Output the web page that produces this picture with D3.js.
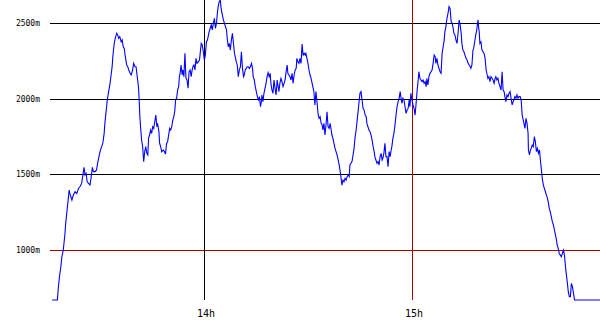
<!DOCTYPE html>
<html>
<head>
<meta charset="utf-8">
<script src="https://cdn.jsdelivr.net/npm/d3@7"></script>
<style>
  body { margin: 0; background: #fff; }
  text { font-family: "DejaVu Sans Mono", monospace; fill: #000; }
</style>
</head>
<body>
<div id="VizBox"></div>
<script>

// minutes after 13:00
var minutes = [16.2, 17.7, 18.0, 18.3, 18.7, 19.0, 19.4, 19.6, 19.9, 20.1, 20.4, 20.7, 21.1, 21.3, 21.6, 21.9, 22.3, 22.8, 23.3, 23.8, 24.2, 24.7, 25.0, 25.4, 25.7, 26.0, 26.3, 26.7, 27.1, 27.4, 27.8, 28.1, 28.6, 29.0, 29.3, 29.7, 30.0, 30.3, 30.8, 31.2, 31.4, 31.7, 32.1, 32.5, 32.9, 33.2, 33.5, 33.7, 33.9, 34.1, 34.4, 34.8, 35.1, 35.4, 35.7, 36.1, 36.4, 36.7, 37.0, 37.3, 37.7, 38.0, 38.3, 38.7, 39.0, 39.4, 39.7, 40.1, 40.4, 40.8, 41.1, 41.3, 41.5, 41.7, 42.0, 42.3, 42.6, 42.9, 43.2, 43.5, 43.8, 44.0, 44.3, 44.6, 44.9, 45.2, 45.5, 45.8, 46.1, 46.4, 46.6, 47.0,
  47.2, 47.5, 47.8, 48.2, 48.6, 48.9, 49.2, 49.5, 49.8, 50.1, 50.4, 50.7, 51.0, 51.3, 51.6, 51.8, 52.1, 52.4, 52.7, 52.9, 53.1, 53.4, 53.7, 53.9, 54.2, 54.5, 54.8, 55.1, 55.4, 55.7, 56.0, 56.3, 56.5, 56.8, 57.1, 57.4, 57.7, 58.0, 58.4, 58.7, 58.9, 59.2, 59.5, 59.8, 60.1, 60.4, 60.7, 61.0, 61.3, 61.5, 61.8, 62.1, 62.4, 62.7, 63.0, 63.3, 63.6, 63.9, 64.1, 64.4, 64.7, 65.0, 65.3, 65.6, 65.9, 66.2, 66.5, 66.7, 67.0, 67.3, 67.6, 67.9, 68.2, 68.5, 68.8, 69.0, 69.3, 69.6, 69.9, 70.2, 70.5, 70.8, 71.1, 71.4, 71.6, 71.9, 72.2, 72.5, 72.8, 73.1, 73.4, 73.7, 74.0, 74.2, 74.5, 74.8, 75.1, 75.4, 75.7, 76.0, 76.3, 76.55,
  76.7, 77.0, 77.3, 77.6, 77.9, 78.2, 78.5, 78.8, 79.1, 79.3, 79.6, 79.9, 80.2, 80.5, 80.8, 81.1, 81.4, 81.6, 81.9, 82.2, 82.5, 82.8, 83.1, 83.4, 83.7, 84.0, 84.2, 84.5, 84.8, 85.1, 85.4, 85.7, 86.0, 86.3, 86.6, 86.8, 87.1, 87.4, 87.7, 88.0, 88.3, 88.6, 88.9, 89.2, 89.4, 89.7, 90.0, 90.3, 90.6, 90.9, 91.2, 91.5, 91.7, 92.0, 92.3, 92.6, 92.9, 93.2, 93.5, 93.8, 94.1, 94.3, 94.6, 94.9, 95.2, 95.5, 95.8, 96.1, 96.4, 96.7, 96.9, 97.2, 97.5, 97.8, 98.1, 98.4, 98.7, 99.0, 99.3, 99.5, 99.8, 100.1, 100.4, 100.7, 101.0, 101.3, 101.6, 101.9, 102.1, 102.4, 102.7, 103.0, 103.3, 103.6, 103.9, 104.2, 104.4, 104.7, 105.0, 105.3, 105.6, 105.9, 106.2, 106.5, 106.8, 107.0, 107.3, 107.6,
  107.9, 108.2, 108.5, 108.8, 109.1, 109.3, 109.6, 109.9, 110.2, 110.5, 110.8, 111.1, 111.4, 111.6, 111.9, 112.2, 112.5, 112.8, 113.1, 113.4, 113.7, 114.0, 114.2, 114.5, 114.8, 115.1, 115.4, 115.7, 116.0, 116.3, 116.6, 116.8, 117.1, 117.4, 117.7, 118.0, 118.3, 118.6, 118.9, 119.2, 119.4, 119.7, 120.0, 120.3, 120.6, 120.9, 121.2, 121.5, 121.8, 122.0, 122.3, 122.6, 122.9, 123.2, 123.5, 123.8, 124.1, 124.3, 124.6, 124.9, 125.2, 125.5, 125.8, 126.1, 126.4, 126.7, 126.9, 127.2, 127.5, 127.8, 128.1, 128.4, 128.7, 129.0, 129.3, 129.5, 129.8, 130.1, 130.4, 130.7, 131.0, 131.3, 131.6, 131.9, 132.1, 132.4, 132.7, 133.0, 133.3, 133.6, 133.9, 134.2, 134.4, 134.7, 135.0, 135.3, 135.6, 135.9, 136.2, 136.5, 136.8, 137.0, 137.3,
  137.6, 137.8, 138.1, 138.4, 138.7, 138.9, 139.1, 139.2, 139.4, 139.6, 139.9, 140.2, 140.5, 140.8, 141.1, 141.4, 141.7, 141.9, 142.2, 142.5, 142.8, 143.1, 143.4, 143.7, 144.0, 144.2, 144.5, 144.8, 145.1, 145.4, 145.7, 146.0, 146.3, 146.6, 146.8, 147.1, 147.4, 147.7, 148.0, 148.3, 148.6, 148.9, 149.2, 149.4, 149.7, 150.0, 150.3, 150.6, 150.9, 151.2, 151.5, 151.8, 152.0, 152.3, 152.6, 152.9, 153.2, 153.5, 153.6, 153.9, 154.2, 154.4, 154.7, 155.0, 155.3, 155.6, 155.9, 156.2, 156.5, 156.8, 157.0, 157.3, 157.6, 157.9, 158.2, 158.5, 158.8, 159.1, 159.4, 159.6, 159.9, 160.2, 160.5, 160.8, 161.1, 161.4, 161.7, 161.9, 162.2, 162.5, 162.8, 163.1, 163.4, 163.7, 164.0, 164.3, 164.5, 164.8, 165.1, 165.4, 165.7, 166.0, 166.3, 166.6, 166.9, 174.3];

// altitude in metres
var alts = [670, 670, 758, 824, 890, 956, 1000, 1044, 1111, 1177, 1243, 1309, 1397, 1375, 1353, 1331, 1364, 1386, 1375, 1408, 1419, 1441, 1486, 1547, 1497, 1508, 1452, 1441, 1430, 1474, 1547, 1519, 1519, 1530, 1574, 1618, 1651, 1673, 1706, 1772, 1838, 1904, 1993, 2048, 2103, 2158, 2213, 2279, 2323, 2367, 2400, 2434, 2423, 2400, 2412, 2378, 2390, 2345, 2334, 2279, 2224, 2213, 2191, 2169, 2158, 2191, 2235, 2213, 2213, 2136, 2081, 1993, 1882, 1816, 1728, 1684, 1585, 1651, 1684, 1640, 1629, 1739, 1761, 1794, 1772, 1816, 1805, 1849, 1893, 1816, 1838, 1783,
  1706, 1684, 1651, 1662, 1651, 1635, 1706, 1717, 1761, 1805, 1794, 1816, 1860, 1882, 1926, 1993, 2004, 2059, 2081, 2147, 2169, 2224, 2158, 2191, 2147, 2301, 2136, 2125, 2070, 2180, 2191, 2147, 2180, 2213, 2224, 2191, 2268, 2235, 2246, 2257, 2301, 2367, 2356, 2312, 2257, 2290, 2378, 2389, 2423, 2445, 2467, 2489, 2456, 2500, 2533, 2467, 2500, 2577, 2610, 2643, 2654, 2588, 2555, 2522, 2500, 2478, 2456, 2401, 2345, 2367, 2323, 2389, 2434, 2367, 2301, 2279, 2246, 2224, 2147, 2191, 2213, 2312, 2202, 2147, 2158, 2191, 2202, 2213, 2213, 2202, 2213, 2235, 2202, 2147, 2125, 2081, 2048, 2015, 1993, 2015, 1948, 1981,
  2026, 1982, 2037, 2070, 2103, 2147, 2173, 2147, 2169, 2103, 2059, 2037, 2125, 2070, 2026, 2125, 2081, 2048, 2103, 2136, 2114, 2081, 2103, 2125, 2180, 2224, 2169, 2158, 2147, 2125, 2169, 2103, 2158, 2191, 2202, 2268, 2246, 2235, 2268, 2235, 2363, 2290, 2301, 2290, 2301, 2268, 2235, 2191, 2158, 2136, 2103, 2070, 2048, 1960, 2048, 1982, 1904, 1871, 1882, 1838, 1827, 1794, 1838, 1761, 1827, 1915, 1816, 1805, 1838, 1794, 1761, 1739, 1706, 1673, 1651, 1629, 1596, 1563, 1519, 1486, 1430, 1463, 1452, 1474, 1463, 1486, 1497, 1486, 1563, 1574, 1585, 1629, 1673, 1750, 1794, 1860, 1904, 1971, 2037, 2048, 1993, 1938, 1926, 1893, 1882, 1838, 1816, 1794,
  1783, 1761, 1728, 1684, 1651, 1618, 1596, 1574, 1585, 1563, 1618, 1640, 1596, 1607, 1640, 1706, 1618, 1618, 1552, 1651, 1618, 1662, 1684, 1739, 1772, 1827, 1893, 1948, 1982, 2004, 2048, 2015, 1971, 2004, 1993, 1948, 1904, 1926, 1937, 1993, 1948, 2037, 1993, 1960, 1937, 1893, 1971, 2059, 2125, 2180, 2136, 2125, 2114, 2125, 2103, 2114, 2081, 2136, 2092, 2147, 2169, 2180, 2191, 2235, 2290, 2279, 2235, 2268, 2224, 2202, 2180, 2169, 2301, 2345, 2389, 2445, 2478, 2533, 2566, 2610, 2599, 2511, 2500, 2467, 2434, 2423, 2389, 2367, 2434, 2522, 2489, 2434, 2367, 2323, 2312, 2290, 2268, 2257, 2235, 2224, 2213, 2202, 2224,
  2323, 2334, 2378, 2423, 2456, 2500, 2522, 2478, 2445, 2367, 2378, 2323, 2312, 2301, 2268, 2191, 2158, 2136, 2147, 2114, 2147, 2136, 2125, 2103, 2136, 2147, 2125, 2136, 2103, 2081, 2059, 2180, 2059, 2048, 2015, 1982, 2026, 2015, 2037, 2048, 2004, 1960, 1982, 1993, 2015, 2004, 2026, 2004, 2015, 2015, 1993, 1893, 1871, 1838, 1805, 1871, 1838, 1772, 1662, 1629, 1662, 1673, 1695, 1684, 1750, 1717, 1651, 1673, 1640, 1662, 1607, 1541, 1474, 1430, 1408, 1386, 1364, 1342, 1309, 1276, 1254, 1221, 1188, 1166, 1133, 1100, 1066, 1033, 1011, 978, 967, 956, 978, 1000, 967, 890, 846, 791, 725, 692, 692, 780, 758, 714, 670, 670];

var altTicks = [1000, 1500, 2000, 2500];
var hourTicks = [14, 15];

var width = 600, height = 330;
var plot = {left: 50, right: 600, top: 0, bottom: 300};

var svg = d3.select("#VizBox")
  .append("svg")
  .attr("width", width)
  .attr("height", height);

var x = d3.scaleLinear()
  .domain([16.15, 174.25])
  .range([52, plot.right]);

var y = d3.scaleLinear()
  .domain([670, 2654])
  .range([plot.bottom, plot.top]);

var gridColor = function(v) { return v === 1000 || v === 15 ? "#aa0000" : "#000000"; };

// horizontal grid
svg.selectAll(".hgrid")
  .data(altTicks)
  .enter().append("line")
  .attr("x1", plot.left).attr("x2", plot.right)
  .attr("y1", function(d) { return Math.round(y(d)) + 0.5; })
  .attr("y2", function(d) { return Math.round(y(d)) + 0.5; })
  .attr("stroke", gridColor)
  .attr("shape-rendering", "crispEdges");

svg.selectAll(".ylab")
  .data(altTicks)
  .enter().append("text")
  .attr("x", 40)
  .attr("y", function(d) { return y(d) + 3; })
  .attr("text-anchor", "end")
  .style("font-size", "8px")
  .text(function(d) { return d + "m"; });

// vertical grid
svg.selectAll(".vgrid")
  .data(hourTicks)
  .enter().append("line")
  .attr("x1", function(d) { return Math.round(x((d - 13) * 60)) + 0.5; })
  .attr("x2", function(d) { return Math.round(x((d - 13) * 60)) + 0.5; })
  .attr("y1", plot.top).attr("y2", plot.bottom)
  .attr("stroke", gridColor)
  .attr("shape-rendering", "crispEdges");

svg.selectAll(".xlab")
  .data(hourTicks)
  .enter().append("text")
  .attr("x", function(d) { return x((d - 13) * 60) + 2; })
  .attr("y", 317)
  .attr("text-anchor", "middle")
  .style("font-size", "10px")
  .text(function(d) { return d + "h"; });

var pts = minutes.map(function(m, i) { return [m, alts[i]]; });

svg.append("path")
  .datum(pts)
  .attr("fill", "none")
  .attr("stroke", "#0000ff")
  .attr("stroke-width", 1.1)
  .attr("d", d3.line()
    .x(function(d) { return x(d[0]); })
    .y(function(d) { return y(d[1]); }));

</script>
</body>
</html>
